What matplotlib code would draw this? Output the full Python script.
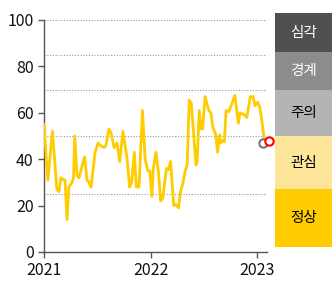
import numpy as np
import pandas as pd
import matplotlib
matplotlib.use("Agg")
import matplotlib.pyplot as plt
import matplotlib.dates as mdates

plt.rcParams["font.family"] = ["Noto Sans CJK KR", "DejaVu Sans"]

# weekly index readings
dates = pd.to_datetime([
    "2021-01-01", "2021-01-14", "2021-01-30", "2021-02-14", "2021-02-21", "2021-02-28",
    "2021-03-10", "2021-03-14", "2021-03-21", "2021-03-27", "2021-04-07", "2021-04-12",
    "2021-04-16", "2021-04-24", "2021-05-01", "2021-05-11", "2021-05-20", "2021-05-28",
    "2021-06-04", "2021-06-11", "2021-06-25", "2021-07-05", "2021-07-12", "2021-07-25",
    "2021-08-01", "2021-08-11", "2021-08-18", "2021-08-29", "2021-09-08", "2021-09-17",
    "2021-09-28", "2021-10-12", "2021-10-21", "2021-10-28", "2021-11-06", "2021-11-13",
    "2021-11-22", "2021-12-04", "2021-12-13", "2021-12-22", "2021-12-29", "2022-01-05",
    "2022-01-10", "2022-01-19", "2022-01-28", "2022-02-04", "2022-02-11", "2022-02-24",
    "2022-03-03", "2022-03-10", "2022-03-21", "2022-03-28", "2022-04-06", "2022-04-13",
    "2022-04-22", "2022-04-29", "2022-05-06", "2022-05-13", "2022-05-20", "2022-06-05",
    "2022-06-09", "2022-06-16", "2022-06-23", "2022-06-28", "2022-07-06", "2022-07-19",
    "2022-07-26", "2022-08-02", "2022-08-11", "2022-08-18", "2022-08-25", "2022-08-29",
    "2022-09-03", "2022-09-10", "2022-09-16", "2022-09-26", "2022-10-16", "2022-10-28",
    "2022-11-03", "2022-11-19", "2022-11-26", "2022-12-08", "2022-12-17", "2022-12-24",
    "2023-01-02", "2023-01-09", "2023-01-16", "2023-01-24",
])
values = [
    55, 31, 52, 27, 26, 32,
    31, 31, 14, 28, 30, 32,
    50, 33, 32, 37, 41, 31,
    30, 28, 43, 47, 46, 45,
    46, 53, 51.5, 45, 47, 39,
    52, 40.5, 28, 30, 43, 28,
    28, 61, 40, 35, 35, 24,
    36, 43, 34, 22, 23, 36,
    35.5, 39, 20, 20.5, 19, 26,
    30, 35, 37.5, 65.5, 64, 37.5,
    39, 61, 53, 53, 67, 61,
    60, 53.5, 51, 43, 50.5, 47,
    48, 47.5, 61, 60.5, 67.5, 55.5,
    60, 59, 58, 67, 67, 63,
    64.5, 62.5, 57, 49,
]

# previous / latest markers
prev_date, prev_val = pd.Timestamp("2023-01-22"), 47
last_date, last_val = pd.Timestamp("2023-02-11"), 48

# alert-level legend boxes (top to bottom)
levels = ["심각", "경계", "주의", "관심", "정상"]
level_colors = ["#505050", "#8c8c8c", "#b4b4b4", "#fde69a", "#ffcc00"]
level_text = ["white", "white", "black", "black", "black"]
level_heights = [39, 38, 46, 53, 58]
thresholds = [100, 85, 70, 50, 25]

W, H = 332, 288
fig = plt.figure(figsize=(W / 100, H / 100), dpi=100)
ax = fig.add_axes([44 / W, 36 / H, (267 - 44) / W, (252 - 20) / H])

for th in thresholds:
    ax.axhline(th, color="#999999", lw=0.8, ls=(0, (1, 1.5)), zorder=1)

ax.plot(dates, values, color="#ffcc00", lw=2.0, zorder=3, solid_joinstyle="round")
ax.plot([prev_date], [prev_val], "o", ms=6, mfc="white", mec="#777777", mew=1.5,
        zorder=4, clip_on=False)
ax.plot([last_date], [last_val], "o", ms=6, mfc="white", mec="#ff0000", mew=1.5,
        zorder=5, clip_on=False)

ax.set_ylim(0, 100)
ax.set_yticks([0, 20, 40, 60, 80, 100])
ax.set_xlim(pd.Timestamp("2021-01-01"), pd.Timestamp("2023-02-03"))
ax.xaxis.set_major_locator(mdates.YearLocator())
ax.xaxis.set_major_formatter(mdates.DateFormatter("%Y"))
for s in ["top", "right"]:
    ax.spines[s].set_visible(False)
for s in ["left", "bottom"]:
    ax.spines[s].set_color("#555555")
    ax.spines[s].set_linewidth(1.0)
ax.tick_params(colors="#555555", length=4, width=1.0, labelsize=11.5, labelcolor="#111111")

# side legend panel
tot = sum(level_heights)
pax = fig.add_axes([275 / W, (H - 247) / H, (W - 275) / W, tot / H])
pax.set_xlim(0, 1)
pax.set_ylim(tot, 0)
pax.axis("off")
top = 0
for name, c, tc, h in zip(levels, level_colors, level_text, level_heights):
    pax.bar(0.5, h, bottom=top, width=1, color=c, edgecolor="none")
    pax.text(0.5, top + h / 2, name, ha="center", va="center", color=tc, fontsize=10.5)
    top += h

fig.savefig("out.png", dpi=100)
